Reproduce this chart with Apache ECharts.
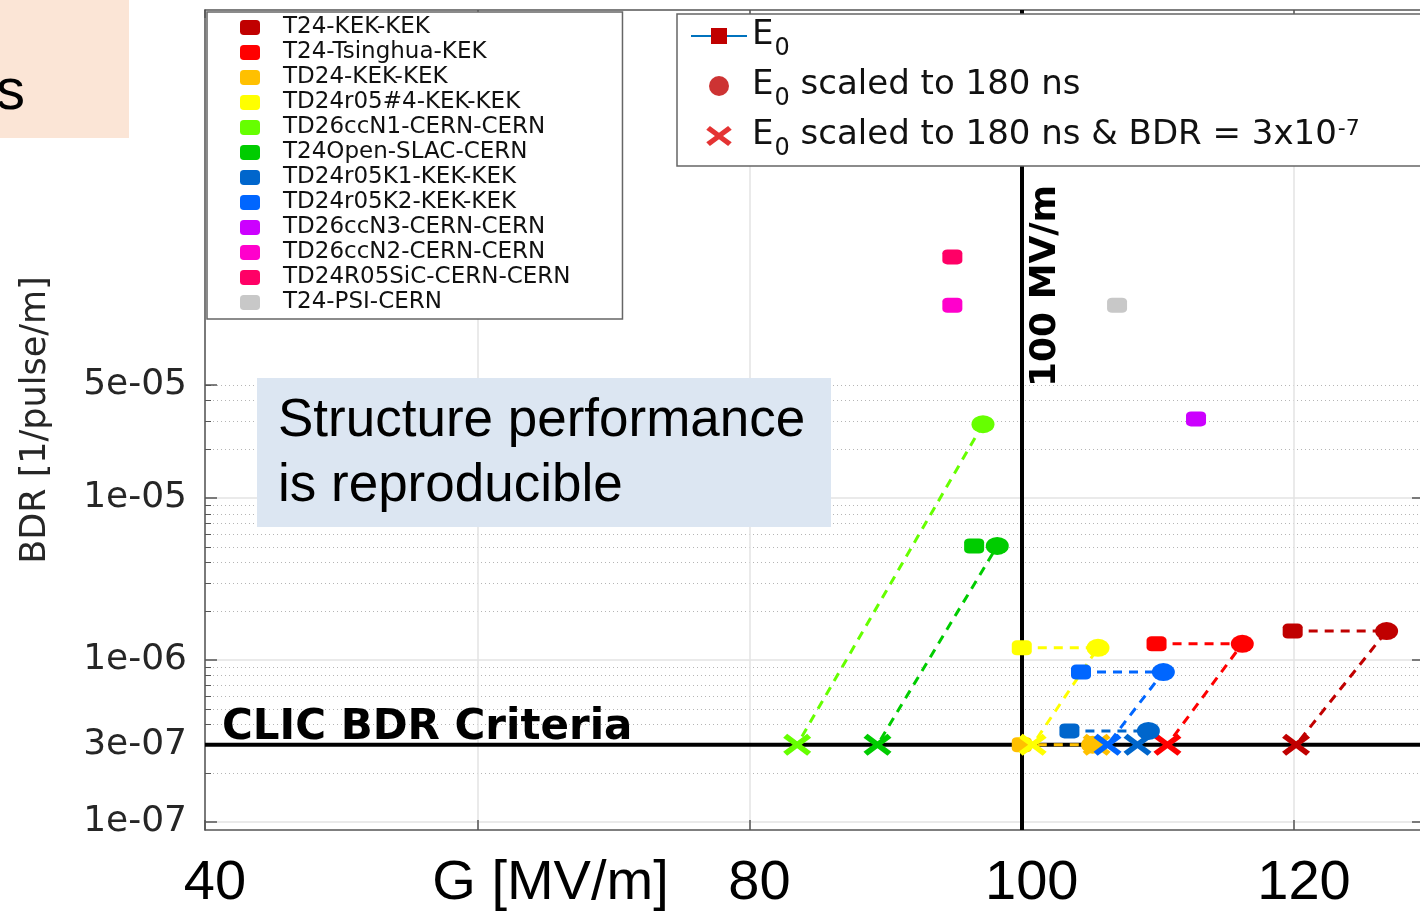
<!DOCTYPE html>
<html>
<head>
<meta charset="utf-8">
<script src="https://cdn.jsdelivr.net/npm/echarts@6/dist/echarts.min.js"></script>
<style>
html,body{margin:0;padding:0;background:#ffffff;}
#chart{width:1420px;height:912px;}
</style>
</head>
<body>
<div id="chart"></div>
<script>
// ---------------- data ----------------
const structureNames = ['T24-KEK-KEK','T24-Tsinghua-KEK','TD24-KEK-KEK','TD24r05#4-KEK-KEK','TD26ccN1-CERN-CERN','T24Open-SLAC-CERN','TD24r05K1-KEK-KEK','TD24r05K2-KEK-KEK','TD26ccN3-CERN-CERN','TD26ccN2-CERN-CERN','TD24R05SiC-CERN-CERN','T24-PSI-CERN'];
const structureColors = ['#c00000','#ff0000','#ffc000','#ffff00','#66ff00','#00cc00','#0066cc','#0066ff','#cc00ff','#ff00cc','#ff0066','#c8c8c8'];

// E0 (measured)
const e0Gradient = [119.9, 109.9, 100.0, 100.0, null, 96.5, 103.5, 104.35, 112.8, 94.9, 94.9, 107.0];
const e0BDR      = [1.51e-6, 1.26e-6, 3.0e-7, 1.19e-6, null, 5.06e-6, 3.65e-7, 8.43e-7, 3.08e-5, 1.55e-4, 3.08e-4, 1.55e-4];
// E0 scaled to 180 ns
const scaledGradient = [126.8, 116.2, 105.2, 105.6, 97.15, 98.2, 109.3, 110.4, null, null, null, null];
const scaledBDR      = [1.51e-6, 1.26e-6, 3.0e-7, 1.19e-6, 2.86e-5, 5.06e-6, 3.65e-7, 8.43e-7, null, null, null, null];
// E0 scaled to 180 ns & BDR = 3e-7
const criterionGradient = [120.15, 110.7, 105.5, 100.8, 83.5, 89.4, 108.5, 106.3, null, null, null, null];
const criterionBDR      = [3e-7, 3e-7, 3e-7, 3e-7, 3e-7, 3e-7, 3e-7, 3e-7, null, null, null, null];

const clicCriterion = 3e-7;
const gradientLimit = 100;

const yLabelValues = [1e-7, 3e-7, 1e-6, 1e-5, 5e-5];
const yMinorValues = [2e-7, 3e-7, 4e-7, 5e-7, 6e-7, 7e-7, 8e-7, 9e-7,
                      2e-6, 3e-6, 4e-6, 5e-6, 6e-6, 7e-6, 8e-6, 9e-6,
                      2e-5, 3e-5, 4e-5, 5e-5];
const yMajorGrid = [1e-7, 1e-6, 1e-5];
const xTickLabels = ['40', '80', '100', '120'];

const symbolLegendNames = ['E0', 'E0 scaled to 180 ns', 'E0 scaled to 180 ns & BDR = 3x10-7'];
const symbolLegendRich = ['{m|E}{s|0}', '{m|E}{s|0}{m| scaled to 180 ns}', '{m|E}{s|0}{m| scaled to 180 ns & BDR = 3x10}{p|-7}'];

// ---------------- styles ----------------
const SQUARE = 'roundRect';
const ELLIPSE = 'path://M0,9A12,9 0 1,1 24,9A12,9 0 1,1 0,9Z';
const CROSS = 'path://M0,4L4,0L14,7.5L24,0L28,4L18.5,11L28,18L24,22L14,14.5L4,22L0,18L9.5,11Z';
const DJ = 'DejaVu Sans';
const AR = 'Liberation Sans';
const Y_MIN = 8.93e-8, Y_MAX = 0.0103;
const X_MIN = 40, X_MAX = 129.4;

function fmtExp(v) {
  const parts = Number(v).toExponential(0).split('e');
  const e = parseInt(parts[1], 10);
  const a = Math.abs(e);
  return parts[0] + 'e' + (e < 0 ? '-' : '+') + (a < 10 ? '0' + a : String(a));
}

const structureSeries = structureNames.map((name, i) => {
  const pts = [];
  if (e0Gradient[i] != null) pts.push({ value: [e0Gradient[i], e0BDR[i]], symbol: SQUARE, symbolSize: [20, 15] });
  if (scaledGradient[i] != null) pts.push({ value: [scaledGradient[i], scaledBDR[i]], symbol: ELLIPSE, symbolSize: [23, 18] });
  if (criterionGradient[i] != null) pts.push({ value: [criterionGradient[i], criterionBDR[i]], symbol: CROSS, symbolSize: [28, 22] });
  return {
    name: name, type: 'line', data: pts,
    showSymbol: true, showAllSymbol: true, symbol: SQUARE,
    itemStyle: { color: structureColors[i] },
    lineStyle: { color: structureColors[i], width: 3, type: [9, 7] },
    emphasis: { disabled: true }, z: 3
  };
});

// vertical 100 MV/m limit
const gradientLimitSeries = {
  name: 'gradient limit', type: 'line', data: [], silent: true,
  markLine: {
    symbol: ['none', 'none'], z: 1, silent: true, emphasis: { disabled: true },
    data: [
      { xAxis: gradientLimit,
        lineStyle: { color: '#000', width: 4, type: 'solid' },
        label: { show: true, position: 'insideEndBottom', formatter: '100 MV/m',
                 fontFamily: DJ, fontWeight: 'bold', fontSize: 36, color: '#000', distance: [175, 6] } }
    ]
  }
};

// horizontal CLIC BDR criterion
const clicSeries = {
  name: 'CLIC BDR Criteria', type: 'line', silent: true, z: 2,
  data: [
    { value: [X_MIN, clicCriterion],
      label: { show: true, position: [17, -38], formatter: 'CLIC BDR Criteria',
               fontFamily: DJ, fontWeight: 'bold', fontSize: 42, color: '#000' } },
    { value: [X_MAX, clicCriterion] }
  ],
  symbol: 'circle', symbolSize: 0, showSymbol: true, showAllSymbol: true,
  itemStyle: { color: '#000' },
  lineStyle: { color: '#000', width: 4, type: 'solid' },
  emphasis: { disabled: true }
};

const legendSeries = [
  { name: symbolLegendNames[0], type: 'line', data: [], symbol: 'rect',
    itemStyle: { color: '#c00000' }, lineStyle: { color: '#0072bd', width: 1.5 } },
  { name: symbolLegendNames[1], type: 'scatter', data: [], symbol: 'circle', itemStyle: { color: '#c00000' } },
  { name: symbolLegendNames[2], type: 'scatter', data: [], symbol: CROSS, itemStyle: { color: '#dd0000' } }
];

const chart = echarts.init(document.getElementById('chart'));
chart.setOption({
  animation: false,
  backgroundColor: '#ffffff',
  grid: { left: 205, right: -2, top: 10, bottom: 82, containLabel: false, outerBoundsMode: 'none' },
  xAxis: [
    { type: 'value', position: 'bottom', min: X_MIN, max: X_MAX, interval: 20,
      axisLine: { show: true, lineStyle: { color: '#555', width: 1.5 } },
      axisTick: { show: true, inside: true, length: 10, lineStyle: { color: '#555', width: 1.5 } },
      axisLabel: { show: true, showMinLabel: true, showMaxLabel: true, hideOverlap: false,
                   fontFamily: AR, fontSize: 56, color: '#000', margin: 26, padding: [0, 0, 0, 20],
                   formatter: v => (xTickLabels.indexOf(String(Math.round(v * 10) / 10)) >= 0 ? String(Math.round(v)) : '') },
      splitLine: { show: true, lineStyle: { color: '#e3e3e3', width: 1.5 } },
      name: 'G [MV/m]', nameLocation: 'middle', nameGap: 26, nameMoveOverlap: false,
      nameTextStyle: { fontFamily: AR, fontSize: 56, color: '#000', padding: [0, 526, 0, 0] } },
    { type: 'value', position: 'top', min: X_MIN, max: X_MAX, interval: 20,
      axisLine: { show: true, lineStyle: { color: '#555', width: 1.5 } },
      axisTick: { show: true, inside: true, length: 8, lineStyle: { color: '#555', width: 1.5 } },
      axisLabel: { show: false }, splitLine: { show: false } }
  ],
  yAxis: [
    { type: 'log', logBase: 10, position: 'left', min: Y_MIN, max: Y_MAX,
      axisLine: { show: true, lineStyle: { color: '#555', width: 1.5 } },
      axisTick: { show: true, inside: true, length: 12, customValues: yLabelValues, lineStyle: { color: '#555', width: 1.5 } },
      axisLabel: { show: true, customValues: yLabelValues, formatter: v => fmtExp(v), hideOverlap: false,
                   fontFamily: DJ, fontSize: 36, color: '#262626', margin: 18 },
      splitLine: { show: false },
      name: 'BDR [1/pulse/m]', nameLocation: 'middle', nameGap: 152, nameMoveOverlap: false,
      nameTextStyle: { fontFamily: DJ, fontSize: 35, color: '#262626' } },
    { type: 'log', logBase: 10, position: 'left', min: Y_MIN, max: Y_MAX,
      axisLine: { show: false },
      axisTick: { show: true, inside: true, length: 6, customValues: yMinorValues, lineStyle: { color: '#555', width: 1 } },
      axisLabel: { show: false },
      splitLine: { show: true, lineStyle: { color: '#b5b5b5', width: 1, type: [1, 3] } } },
    { type: 'log', logBase: 10, position: 'right', min: Y_MIN, max: Y_MAX,
      axisLine: { show: true, lineStyle: { color: '#555', width: 1.5 } },
      axisTick: { show: true, inside: true, length: 10, customValues: yMajorGrid, lineStyle: { color: '#555', width: 1.5 } },
      axisLabel: { show: false, customValues: yMajorGrid },
      splitLine: { show: true, lineStyle: { color: '#e3e3e3', width: 1.5 } } }
  ],
  legend: [
    { orient: 'vertical', left: 207, top: 12, data: structureNames,
      icon: 'roundRect', itemWidth: 20, itemHeight: 15, itemGap: 2,
      backgroundColor: '#ffffff', borderColor: '#666', borderWidth: 1.5, borderRadius: 0,
      padding: [4, 52, 5, 33], selectedMode: false,
      textStyle: { fontFamily: DJ, fontSize: 23, color: '#111', lineHeight: 22, padding: [0, 0, 0, 18] } },
    { orient: 'vertical', left: 677, top: 14,
      data: [ { name: symbolLegendNames[0] },
              { name: symbolLegendNames[1], icon: 'circle' },
              { name: symbolLegendNames[2], icon: CROSS } ],
      itemWidth: 56, itemHeight: 20, itemGap: 7,
      backgroundColor: '#ffffff', borderColor: '#666', borderWidth: 1.5, borderRadius: 0,
      padding: [4, 200, 5, 13], selectedMode: false,
      formatter: name => symbolLegendRich[symbolLegendNames.indexOf(name)],
      textStyle: { fontFamily: DJ, fontSize: 34, color: '#111',
        rich: {
          m: { fontFamily: DJ, fontSize: 34, lineHeight: 36, color: '#111', verticalAlign: 'top' },
          s: { fontFamily: DJ, fontSize: 24, lineHeight: 24, color: '#111', verticalAlign: 'top', padding: [19, 0, 0, 1] },
          p: { fontFamily: DJ, fontSize: 22, lineHeight: 22, color: '#111', verticalAlign: 'top', padding: [0, 0, 0, 1] }
        } } }
  ],
  graphic: [
    { type: 'rect', left: 0, top: 0, z: 10, shape: { width: 129, height: 138 }, style: { fill: '#fbe5d6' } },
    { type: 'text', x: -4, y: 64, z: 11, style: { text: 's', font: '58px "Liberation Sans"', fill: '#000' } },
    { type: 'rect', left: 257, top: 378, z: 10, shape: { width: 574, height: 149 }, style: { fill: '#dce6f2' } },
    { type: 'text', left: 278, top: 389, z: 11,
      style: { text: 'Structure performance\nis reproducible', font: '53px "Liberation Sans"', lineHeight: 65, fill: '#000' } }
  ],
  series: [gradientLimitSeries, clicSeries].concat(structureSeries, legendSeries)
});
</script>
</body>
</html>
